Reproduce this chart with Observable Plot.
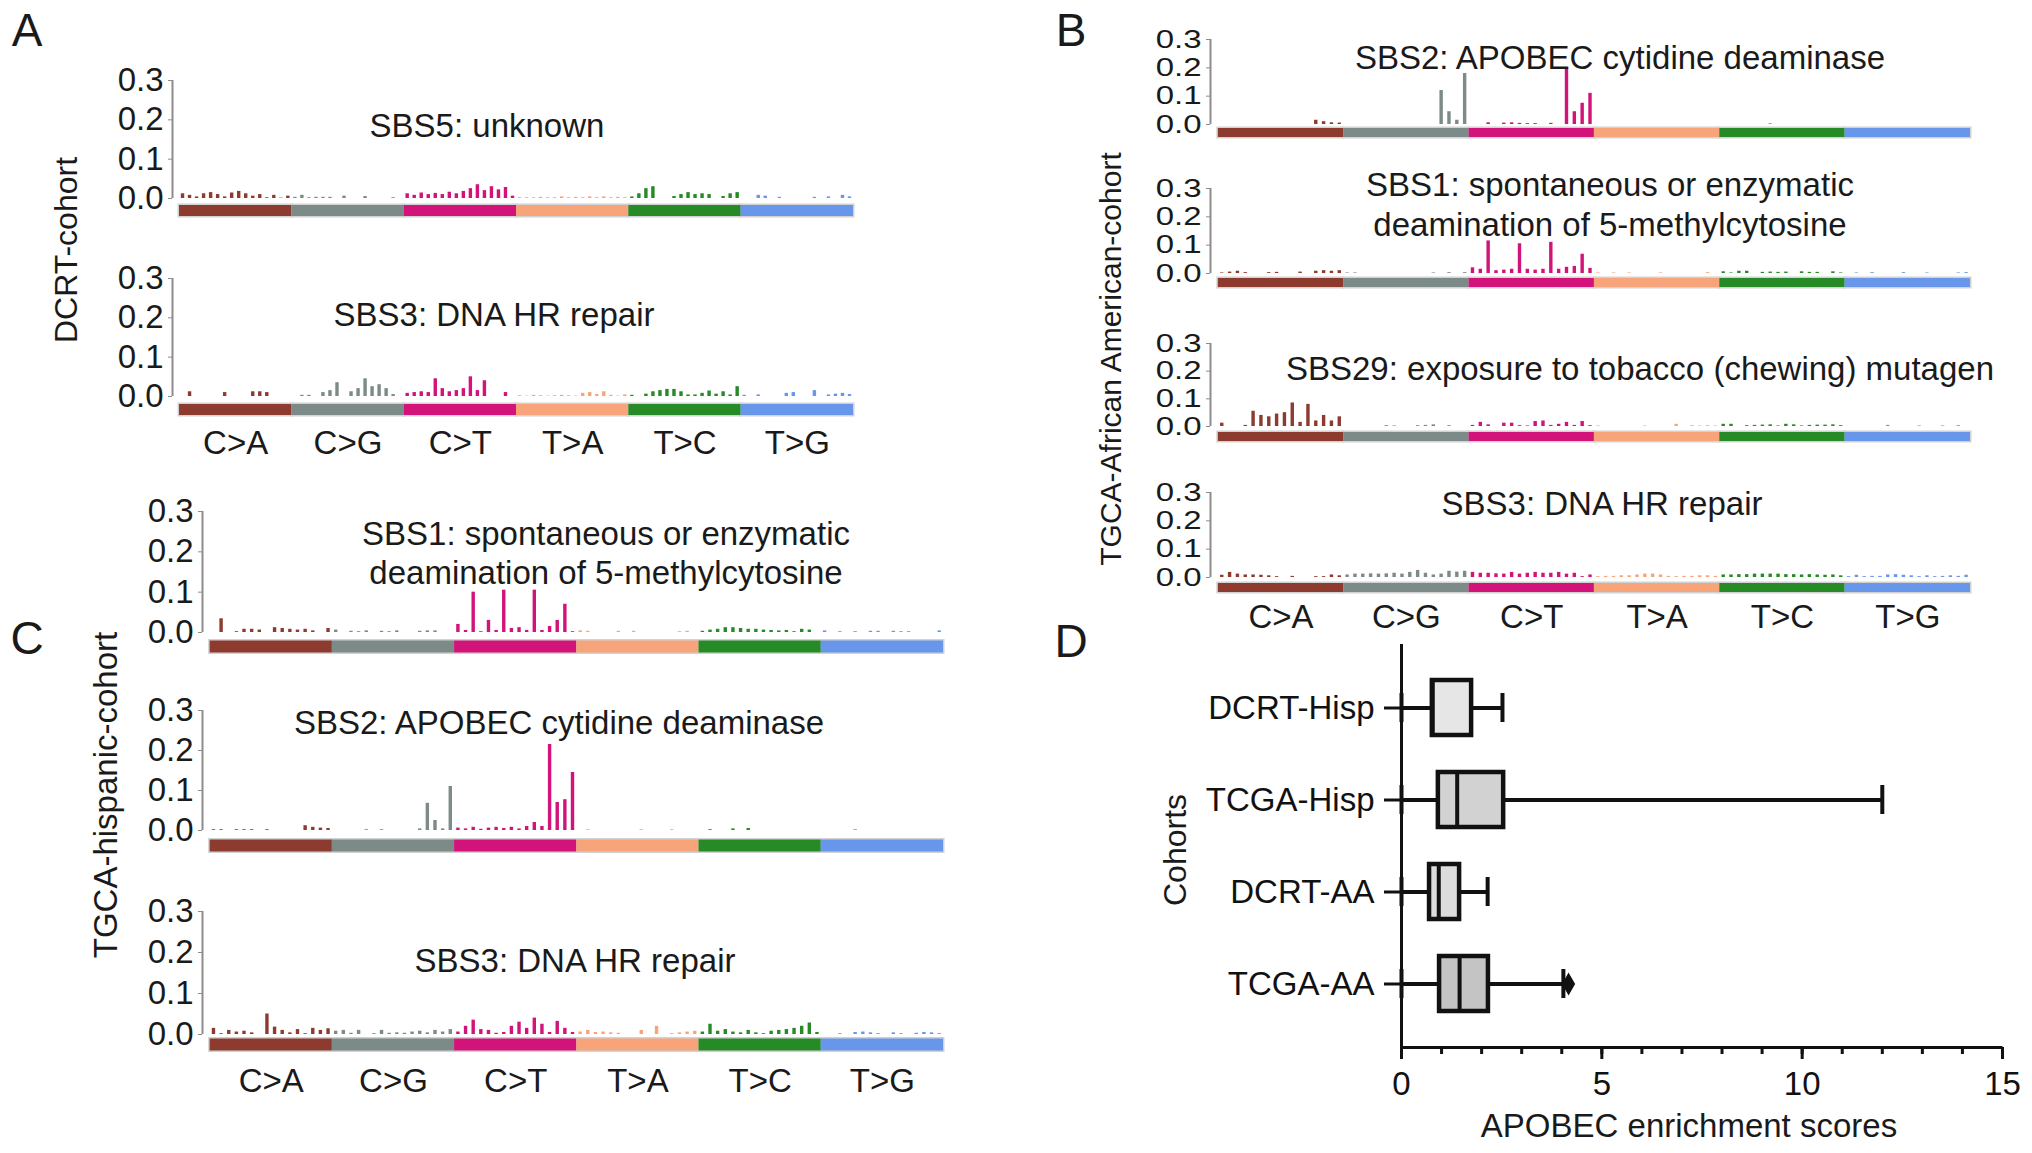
<!DOCTYPE html>
<html>
<head>
<meta charset="utf-8">
<script src="https://cdn.jsdelivr.net/npm/d3@7"></script>
<script src="https://cdn.jsdelivr.net/npm/@observablehq/plot@0.6"></script>
<style>
  html, body { margin: 0; padding: 0; background: #ffffff; }
  #fig { position: relative; width: 2032px; height: 1153px; background: #ffffff; overflow: hidden;
         font-family: 'Liberation Sans', Arial, Helvetica, sans-serif; color: #1a1a1a; }
  #fig svg { max-width: none !important; overflow: visible; }
</style>
</head>
<body>
<div id="fig"></div>
<script>
// ---------------- DATA ----------------
const mutTypes = ["C>A", "C>G", "C>T", "T>A", "T>C", "T>G"];
const yTicks = [0, 0.1, 0.2, 0.3];

// 96-channel signatures (16 trinucleotide contexts per mutation type, COSMIC order)
const A_SBS5 = [
  0.012,0.008,0.004,0.012,0.015,0.010,0.004,0.014,0.018,0.012,0.006,0.010,0.002,0.008,0.001,0.006,
  0.003,0.008,0.002,0.003,0.003,0.003,0.000,0.006,0.000,0.000,0.005,0.000,0.000,0.000,0.002,0.000,
  0.012,0.008,0.014,0.010,0.013,0.010,0.016,0.012,0.018,0.025,0.035,0.020,0.030,0.022,0.028,0.006,
  0.002,0.002,0.002,0.003,0.002,0.002,0.004,0.002,0.003,0.002,0.004,0.002,0.004,0.002,0.003,0.002,
  0.004,0.012,0.025,0.030,0.000,0.000,0.005,0.010,0.015,0.010,0.012,0.010,0.000,0.005,0.012,0.015,
  0.000,0.000,0.008,0.006,0.000,0.003,0.000,0.000,0.000,0.000,0.003,0.000,0.004,0.000,0.008,0.004
];
const A_SBS3 = [
  0.000,0.012,0.000,0.000,0.000,0.000,0.010,0.000,0.000,0.000,0.012,0.012,0.010,0.000,0.000,0.000,
  0.000,0.003,0.003,0.000,0.010,0.015,0.035,0.000,0.012,0.020,0.045,0.025,0.030,0.020,0.005,0.000,
  0.008,0.010,0.012,0.010,0.045,0.020,0.012,0.015,0.020,0.050,0.015,0.040,0.000,0.000,0.010,0.000,
  0.002,0.001,0.003,0.002,0.001,0.002,0.003,0.002,0.001,0.008,0.010,0.005,0.012,0.003,0.001,0.004,
  0.003,0.000,0.006,0.012,0.015,0.018,0.018,0.012,0.004,0.004,0.008,0.014,0.006,0.012,0.004,0.025,
  0.003,0.000,0.004,0.000,0.000,0.000,0.008,0.010,0.000,0.000,0.015,0.000,0.004,0.006,0.008,0.005
];
const B_SBS2 = [
  0,0,0,0,0,0,0,0,0,0,0,0,0.015,0.010,0.006,0.005,
  0,0,0,0,0,0,0,0,0,0,0,0,0.120,0.045,0.015,0.180,
  0,0,0.006,0,0.005,0.006,0.004,0.003,0.003,0,0.004,0,0.200,0.045,0.075,0.110,
  0,0,0,0,0,0,0,0,0,0,0,0,0,0,0,0,
  0,0,0,0,0,0,0.002,0,0,0,0,0,0,0,0,0,
  0,0,0,0,0,0,0,0,0,0,0,0,0,0,0,0
];
const B_SBS1 = [
  0.002,0.005,0.008,0.003,0.000,0.000,0.003,0.004,0.000,0.000,0.005,0.000,0.008,0.010,0.008,0.010,
  0.002,0.002,0.000,0.000,0.000,0.000,0.000,0.000,0.000,0.000,0.000,0.002,0.000,0.003,0.000,0.003,
  0.020,0.015,0.115,0.010,0.012,0.015,0.105,0.015,0.012,0.015,0.110,0.015,0.022,0.025,0.068,0.018,
  0.002,0.000,0.002,0.000,0.002,0.000,0.000,0.000,0.002,0.000,0.000,0.000,0.000,0.000,0.003,0.000,
  0.006,0.002,0.008,0.008,0.000,0.004,0.005,0.004,0.005,0.000,0.006,0.004,0.004,0.000,0.006,0.002,
  0.000,0.002,0.000,0.003,0.000,0.000,0.000,0.003,0.000,0.000,0.002,0.000,0.000,0.000,0.002,0.003
];
const B_SBS29 = [
  0.012,0.000,0.000,0.004,0.055,0.040,0.035,0.045,0.050,0.085,0.015,0.080,0.020,0.040,0.020,0.035,
  0.000,0.000,0.000,0.000,0.000,0.003,0.002,0.000,0.000,0.003,0.004,0.006,0.000,0.003,0.000,0.000,
  0.004,0.015,0.006,0.000,0.012,0.012,0.003,0.002,0.018,0.020,0.004,0.008,0.015,0.004,0.018,0.003,
  0.002,0.000,0.000,0.000,0.000,0.000,0.002,0.000,0.000,0.000,0.008,0.000,0.003,0.002,0.003,0.002,
  0.008,0.008,0.000,0.003,0.004,0.005,0.006,0.002,0.008,0.006,0.002,0.004,0.005,0.005,0.006,0.003,
  0.000,0.000,0.000,0.000,0.000,0.004,0.000,0.000,0.000,0.002,0.000,0.000,0.002,0.000,0.003,0.000
];
const B_SBS3 = [
  0.008,0.018,0.012,0.009,0.009,0.008,0.006,0.003,0.000,0.004,0.000,0.000,0.003,0.003,0.009,0.006,
  0.009,0.012,0.012,0.013,0.012,0.013,0.015,0.012,0.018,0.025,0.015,0.009,0.012,0.022,0.019,0.022,
  0.018,0.015,0.015,0.013,0.012,0.018,0.012,0.015,0.018,0.015,0.015,0.018,0.012,0.015,0.003,0.009,
  0.003,0.004,0.004,0.006,0.006,0.009,0.012,0.012,0.009,0.004,0.003,0.004,0.004,0.006,0.006,0.004,
  0.009,0.009,0.010,0.010,0.012,0.012,0.012,0.012,0.010,0.010,0.009,0.010,0.009,0.008,0.009,0.006,
  0.003,0.008,0.003,0.004,0.004,0.009,0.010,0.008,0.006,0.003,0.006,0.003,0.004,0.006,0.004,0.008
];
const C_SBS1 = [
  0.000,0.034,0.000,0.002,0.008,0.008,0.006,0.000,0.012,0.010,0.008,0.006,0.008,0.004,0.000,0.010,
  0.006,0.000,0.003,0.002,0.004,0.000,0.003,0.002,0.004,0.000,0.000,0.003,0.004,0.004,0.000,0.000,
  0.020,0.005,0.100,0.002,0.030,0.005,0.105,0.010,0.012,0.005,0.105,0.005,0.015,0.030,0.070,0.002,
  0.004,0.003,0.000,0.000,0.000,0.003,0.000,0.003,0.000,0.000,0.000,0.000,0.000,0.002,0.003,0.000,
  0.003,0.006,0.008,0.012,0.012,0.010,0.008,0.008,0.006,0.005,0.004,0.005,0.002,0.008,0.006,0.000,
  0.004,0.000,0.002,0.000,0.002,0.000,0.003,0.003,0.000,0.003,0.002,0.002,0.000,0.000,0.000,0.004
];
const C_SBS2 = [
  0.002,0.002,0.000,0.002,0.002,0.002,0.000,0.002,0.000,0.000,0.000,0.000,0.012,0.008,0.006,0.005,
  0.000,0.000,0.000,0.000,0.002,0.000,0.002,0.000,0.000,0.000,0.000,0.004,0.068,0.025,0.004,0.110,
  0.006,0.004,0.008,0.003,0.006,0.008,0.005,0.008,0.004,0.010,0.020,0.010,0.215,0.070,0.077,0.145,
  0.000,0.002,0.000,0.000,0.000,0.000,0.000,0.000,0.002,0.000,0.000,0.000,0.002,0.000,0.000,0.000,
  0.000,0.002,0.000,0.000,0.004,0.000,0.005,0.000,0.000,0.000,0.000,0.000,0.000,0.000,0.000,0.000,
  0.000,0.000,0.000,0.000,0.002,0.000,0.000,0.000,0.000,0.000,0.000,0.000,0.000,0.000,0.000,0.000
];
const C_SBS3 = [
  0.015,0.002,0.010,0.006,0.008,0.004,0.000,0.050,0.018,0.010,0.004,0.012,0.002,0.015,0.010,0.014,
  0.008,0.010,0.003,0.010,0.000,0.002,0.010,0.003,0.004,0.003,0.006,0.008,0.004,0.010,0.006,0.012,
  0.006,0.020,0.035,0.012,0.010,0.003,0.005,0.020,0.030,0.015,0.040,0.025,0.005,0.032,0.015,0.005,
  0.006,0.010,0.005,0.006,0.004,0.003,0.000,0.000,0.010,0.000,0.020,0.000,0.002,0.004,0.006,0.008,
  0.006,0.025,0.008,0.012,0.006,0.004,0.010,0.004,0.002,0.008,0.010,0.012,0.015,0.020,0.028,0.005,
  0.000,0.000,0.002,0.000,0.005,0.006,0.004,0.002,0.000,0.004,0.002,0.000,0.003,0.005,0.004,0.002
];

// Panel D: APOBEC enrichment score box summaries
const cohorts      = ["DCRT-Hisp", "TCGA-Hisp", "DCRT-AA", "TCGA-AA"];
const boxMin       = [0, 0, 0, 0];
const boxQ1        = [0.77, 0.92, 0.70, 0.95];
const boxMedian    = [0.78, 1.39, 0.93, 1.45];
const boxQ3        = [1.75, 2.55, 1.45, 2.17];
const boxMax       = [2.52, 12.0, 2.15, 4.04];
const outlierCohort = ["TCGA-AA"];
const outlierValue  = [4.17];
const xMajorTicks  = [0, 5, 10, 15];
const xMinorTicks  = [0,1,2,3,4,5,6,7,8,9,10,11,12,13,14,15];

// ---------------- STYLE ----------------
const FONT = "'Liberation Sans', Arial, Helvetica, sans-serif";
const FS = 33;
const groupColors = ["#8E3B2F", "#7C8B88", "#D2137A", "#F7A47B", "#268A26", "#6896EA"];
const boxFills = ["#e6e6e6", "#d2d2d2", "#dcdcdc", "#c4c4c4"];
const xDomain = [-1.5, 95.5];

const fig = document.getElementById("fig");

function place(svg, left, top) {
  const w = document.createElement("div");
  w.style.position = "absolute";
  w.style.left = left + "px";
  w.style.top = top + "px";
  w.appendChild(svg);
  fig.appendChild(w);
}

function addText(txt, cx, cy, o = {}) {
  const d = document.createElement("div");
  const size = o.size || FS;
  Object.assign(d.style, {
    position: "absolute", left: cx + "px", top: cy + "px",
    fontSize: size + "px", lineHeight: (o.lh || Math.round(size * 1.15)) + "px",
    whiteSpace: "pre", textAlign: "center",
    transform: `translate(-50%,-50%)${o.rotate ? ` rotate(${o.rotate}deg)` : ""}`
  });
  d.textContent = txt;
  fig.appendChild(d);
}

// squash tick labels vertically (the reference's panel B lettering is compressed)
function squashTickLabels(svg, sy) {
  let texts = svg.querySelectorAll('g[aria-label="y-axis tick label"] text');
  if (!texts.length) texts = [...svg.querySelectorAll("text")].filter(t => /^0\.\d$/.test(t.textContent.trim()));
  texts.forEach(t => {
    const tr = t.getAttribute("transform") || "";
    t.setAttribute("transform", `${tr} scale(1,${sy})`);
  });
}

function sigPlot(values, p) {
  const data = values.map((v, i) => ({i, v, g: Math.floor(i / 16)}));
  const groups = mutTypes.map((name, g) => ({name, start: g * 16, color: groupColors[g]}));
  const slot = (p.X1 - p.X0) / (xDomain[1] - xDomain[0]);
  const inset = Math.max(0, (slot - 3.4) / 2);
  const mL = 90, mR = 12, mT = 24, mB = p.labelDy ? 80 : 32;
  const svg = Plot.plot({
    width: p.X1 - p.X0 + mL + mR,
    height: p.Ybase - p.Ytop + mT + mB,
    marginLeft: mL, marginRight: mR, marginTop: mT, marginBottom: mB,
    x: {domain: xDomain, axis: null},
    y: {domain: [0, yTicks[yTicks.length - 1]], label: null},
    color: {type: "identity"},
    style: {fontFamily: FONT, fontSize: FS + "px", color: "#1a1a1a", background: "transparent"},
    marks: [
      Plot.ruleX([xDomain[0]], {y1: 0, y2: yTicks[yTicks.length - 1], stroke: "#8c8c8c", strokeWidth: 2}),
      Plot.axisY({ticks: yTicks, tickFormat: d => d.toFixed(1), tickSize: 4, tickPadding: 5,
                  fontSize: FS, stroke: "#8c8c8c", label: null}),
      Plot.ruleY(groups, {y: 0, x1: g => g.start - 0.5, x2: g => g.start + 15.5, dy: p.stripDy,
                          stroke: "#d2d2d2", strokeWidth: p.stripH + 3, insetLeft: -1.5, insetRight: -1.5}),
      Plot.ruleY(groups, {y: 0, x1: g => g.start - 0.5, x2: g => g.start + 15.5, dy: p.stripDy,
                          stroke: g => g.color, strokeWidth: p.stripH}),
      Plot.rectY(data, {x1: d => d.i - 0.5, x2: d => d.i + 0.5, y1: 0, y2: "v",
                        fill: d => groupColors[d.g], insetLeft: inset, insetRight: inset}),
      p.labelDy ? Plot.text(groups, {x: g => g.start + 7.5, y: 0, dy: p.labelDy, text: "name",
                                     fontSize: FS, fill: "#1a1a1a"}) : null
    ]
  });
  if (p.squash) squashTickLabels(svg, p.squash);
  place(svg, p.X0 - mL, p.Ytop - mT);
}

// ---------------- PANELS A, B, C ----------------
sigPlot(A_SBS5, {X0: 172, X1: 853, Ytop: 80,  Ybase: 198, stripDy: 12, stripH: 11});
sigPlot(A_SBS3, {X0: 172, X1: 853, Ytop: 278, Ybase: 396, stripDy: 13, stripH: 11, labelDy: 47});

sigPlot(B_SBS2,  {X0: 1210, X1: 1970, Ytop: 39,  Ybase: 124, stripDy: 8,  stripH: 9, squash: 0.76});
sigPlot(B_SBS1,  {X0: 1210, X1: 1970, Ytop: 188, Ybase: 273, stripDy: 9,  stripH: 9, squash: 0.76});
sigPlot(B_SBS29, {X0: 1210, X1: 1970, Ytop: 343, Ybase: 426, stripDy: 10, stripH: 9, squash: 0.76});
sigPlot(B_SBS3,  {X0: 1210, X1: 1970, Ytop: 492, Ybase: 577, stripDy: 10, stripH: 9, squash: 0.76, labelDy: 40});

sigPlot(C_SBS1, {X0: 202, X1: 943, Ytop: 511, Ybase: 632, stripDy: 14, stripH: 12});
sigPlot(C_SBS2, {X0: 202, X1: 943, Ytop: 710, Ybase: 830, stripDy: 15, stripH: 12});
sigPlot(C_SBS3, {X0: 202, X1: 943, Ytop: 911, Ybase: 1034, stripDy: 10, stripH: 12, labelDy: 47});

// ---------------- PANEL D ----------------
(function () {
  const stats = cohorts.map((c, i) => ({cohort: c, min: boxMin[i], q1: boxQ1[i], median: boxMedian[i],
                                         q3: boxQ3[i], max: boxMax[i], fill: boxFills[i]}));
  const outliers = outlierCohort.map((c, i) => ({cohort: c, value: outlierValue[i]}));
  const L = 1060, T = 620, W = 972, H = 533;
  const mL = 341, mR = 30, mT = 24, mB = 106;
  const fw = W - mL - mR, fh = H - mT - mB;
  const svg = Plot.plot({
    width: W, height: H, marginLeft: mL, marginRight: mR, marginTop: mT, marginBottom: mB,
    x: {domain: [xMajorTicks[0], xMajorTicks[xMajorTicks.length - 1]], label: null},
    y: {domain: cohorts, paddingInner: 0.4, paddingOuter: 0.37, label: null},
    color: {type: "identity"},
    style: {fontFamily: FONT, fontSize: FS + "px", color: "#111", background: "transparent"},
    marks: [
      Plot.ruleY(stats, {y: "cohort", x1: "min", x2: "max", stroke: "#111", strokeWidth: 4}),
      Plot.tickX(stats, {x: "min", y: "cohort", stroke: "#111", strokeWidth: 4, insetTop: 13, insetBottom: 13}),
      Plot.tickX(stats, {x: "max", y: "cohort", stroke: "#111", strokeWidth: 4, insetTop: 13, insetBottom: 13}),
      Plot.barX(stats, {y: "cohort", x1: "q1", x2: "q3", fill: "fill", stroke: "#111", strokeWidth: 4.5}),
      Plot.tickX(stats, {x: "median", y: "cohort", stroke: "#111", strokeWidth: 4}),
      Plot.dot(outliers, {x: "value", y: "cohort", symbol: "diamond", r: 6, fill: "#111", stroke: "#111"}),
      Plot.ruleX([xMajorTicks[0]], {stroke: "#111", strokeWidth: 3}),
      Plot.frame({stroke: "#111", strokeWidth: 3, fill: "none",
                  strokeDasharray: `0 ${fw + fh} ${fw} ${fh}`}),
      Plot.axisY({tickSize: 17, tickPadding: 10, fontSize: FS, strokeWidth: 3, stroke: "#111", label: null}),
      Plot.axisX({ticks: xMajorTicks, tickSize: 12, tickPadding: 12, fontSize: FS, strokeWidth: 3,
                  stroke: "#111", label: null}),
      Plot.axisX({ticks: xMinorTicks, tickSize: 7, tickFormat: () => "", strokeWidth: 3,
                  stroke: "#111", label: null})
    ]
  });
  place(svg, L, T);
})();

// ---------------- TEXT OVERLAYS ----------------
// panel letters
addText("A", 27, 30, {size: 46});
addText("B", 1071, 30, {size: 46});
addText("C", 27, 638, {size: 46});
addText("D", 1071, 641, {size: 46});

// signature titles
addText("SBS5: unknown", 487, 126);
addText("SBS3: DNA HR repair", 494, 315);
addText("SBS2: APOBEC cytidine deaminase", 1620, 58);
addText("SBS1: spontaneous or enzymatic\ndeamination of 5-methylcytosine", 1610, 205, {lh: 40});
addText("SBS29: exposure to tobacco (chewing) mutagen", 1640, 369);
addText("SBS3: DNA HR repair", 1602, 504);
addText("SBS1: spontaneous or enzymatic\ndeamination of 5-methylcytosine", 606, 553, {lh: 39});
addText("SBS2: APOBEC cytidine deaminase", 559, 723);
addText("SBS3: DNA HR repair", 575, 961);

// cohort axis titles (rotated)
addText("DCRT-cohort", 66, 250, {size: 32, rotate: -90});
addText("TGCA-African American-cohort", 1110, 359, {size: 30, rotate: -90});
addText("TGCA-hispanic-cohort", 106, 795, {size: 33, rotate: -90});
addText("Cohorts", 1175, 850, {size: 32, rotate: -90});
addText("APOBEC enrichment scores", 1689, 1126);
</script>
</body>
</html>
